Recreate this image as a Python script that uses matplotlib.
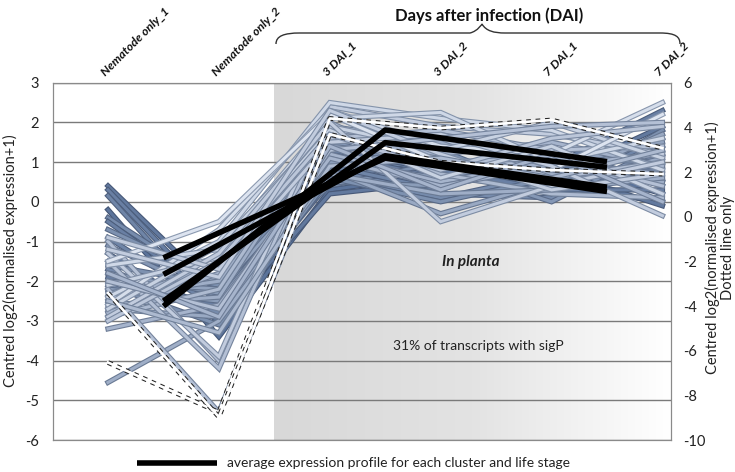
import numpy as np
import matplotlib
matplotlib.use("Agg")
import matplotlib.pyplot as plt
from matplotlib.colors import LinearSegmentedColormap, to_rgb
from matplotlib.path import Path
from matplotlib.patches import PathPatch
from matplotlib.transforms import offset_copy

plt.rcParams['font.family'] = ['Lato', 'DejaVu Sans']

# ---------------- data ----------------
categories = ["Nematode only_1", "Nematode only_2", "3 DAI_1", "3 DAI_2", "7 DAI_1", "7 DAI_2"]

nem_1 = [0.40, 0.30, 0.15, -0.20, -0.40, -0.50, -0.70, -0.90, -1.10, -1.30, -1.60, -1.70, -1.80, -1.90,
         -2.00, -2.10, -2.20, -2.30, -2.40, -2.50, -2.60, -2.70, -2.80, -2.90, -3.20, -4.55, -1.00, -1.50,
         -2.20, -1.30, -2.40, -2.60, -1.60, -2.70, -1.50, -2.10, -2.90, -0.90, -3.00, -1.20, -2.00, -2.50, -1.80]
nem_2 = [-2.30, -2.60, -2.90, -3.40, -2.20, -2.50, -2.00, -2.70, -2.40, -3.00, -2.10, -2.80, -2.30, -2.60,
         -2.20, -3.10, -2.50, -1.90, -2.00, -1.60, -2.40, -2.90, -1.80, -2.20, -2.60, -3.00, -4.00, -4.20,
         -5.30, -3.90, -1.00, -0.70, -1.20, -1.10, -0.50, -1.40, -1.30, -1.70, -1.50, -1.90, -2.70, -3.30, -2.90]
dai3_1 = [1.00, 0.60, 0.50, 0.30, 0.80, 1.20, 0.40, 0.90, 1.50, 0.20, 1.10, 0.70, 0.50, 1.30,
          0.90, 0.60, 1.00, 1.40, 1.70, 1.20, 1.90, 0.80, 1.60, 2.00, 1.10, 0.70, 1.80, 2.20,
          1.60, 2.40, 2.50, 2.30, 2.10, 1.90, 2.20, 1.80, 2.00, 1.50, 1.70, 2.30, 1.30, 0.90, 1.40]
dai3_2 = [0.80, 0.40, 1.20, 0.70, 0.20, 0.60, 1.00, 0.30, 0.90, 0.50, 1.30, 0.10, 0.40, 0.80,
          1.40, 0.00, 0.60, 1.10, 0.90, 0.50, 1.50, -0.30, 1.20, 0.70, 0.40, 0.20, 1.60, 1.00,
          1.80, 1.90, 2.10, 1.40, 2.25, 1.30, 1.00, 0.60, -0.50, 1.70, 0.80, 1.20, 1.60, 1.10, 0.30]
dai7_1 = [0.60, 0.90, 0.30, 1.00, 0.10, 0.40, 0.50, 1.30, 0.00, 0.80, 0.20, 0.70, 1.10, 0.30,
          0.90, 0.60, 1.20, 0.40, 0.70, 1.00, 0.80, 0.50, 1.50, 0.20, 0.90, 0.30, 0.60, 1.10,
          1.30, 1.70, 1.80, 1.20, 1.00, 2.00, 0.80, 1.40, 0.40, 0.90, 1.60, 0.30, 1.90, 0.60, 1.20]
dai7_2 = [1.90, 2.30, 1.60, 0.20, 1.20, 0.00, 0.90, 0.50, 1.40, -0.10, 1.80, 0.60, 1.00, 0.30,
          1.50, 0.80, 0.40, 1.10, 1.30, 0.70, 0.50, 1.70, 0.90, 0.10, 1.20, 0.60, 1.00, 0.40,
          1.40, 1.20, 0.80, 2.50, 1.60, 1.10, 2.20, 0.20, 1.00, -0.35, 1.90, 0.70, 2.00, 1.30, 0.00]
# shade of each transcript line (0 = light blue, 1 = dark slate blue)
shade = [0.90, 0.85, 0.80, 0.95, 0.75, 0.85, 0.70, 0.80, 0.65, 0.90, 0.70, 0.75, 0.60, 0.85,
         0.55, 0.70, 0.60, 0.50, 0.45, 0.40, 0.45, 0.50, 0.40, 0.35, 0.40, 0.45, 0.30, 0.30,
         0.30, 0.20, 0.10, 0.05, 0.10, 0.15, 0.00, 0.15, 0.20, 0.20, 0.25, 0.20, 0.30, 0.35, 0.40]

# dotted-line profiles (right axis)
dotted_1 = [-6.53, -8.76, 4.40, 3.97, 4.33, 3.07]
dotted_2 = [-3.42, -8.97, 3.69, 2.44, 2.09, 1.91]

# averages per cluster and life stage
stages = [[0, 1], [2, 3], [4, 5]]
avg_nematode = [-1.41, -1.83, -2.50, -2.63]
avg_3dai = [1.10, 1.16, 1.49, 1.81]
avg_7dai = [0.26, 0.37, 0.87, 1.01]

left_ticks = list(range(-6, 4))
right_ticks = list(range(-10, 7, 2))

# ---------------- figure ----------------
W, H = 735, 472
fig = plt.figure(figsize=(W / 100, H / 100), dpi=100)
ax = fig.add_axes([53 / W, 1 - 440 / H, (671 - 53) / W, (440 - 82.7) / H])
ax2 = ax.twinx()

x0, x1 = -0.496, 5.077
ax.set_xlim(x0, x1)
ax.set_ylim(-6, 3)
ax2.set_ylim(-10, 6)

# gradient background (in planta)
grad = np.linspace(0, 1, 256).reshape(1, -1)
cmap_bg = LinearSegmentedColormap.from_list("bg", ["#d8d8d8", "#e3e3e3", "#ffffff"])
ax.imshow(grad, extent=[1.5, x1, -6, 3], aspect='auto', cmap=cmap_bg, zorder=0, interpolation='bicubic')
ax.set_xlim(x0, x1)
ax.set_ylim(-6, 3)

for y in left_ticks:
    ax.axhline(y, color="#7a7a7a", lw=1.0, zorder=1)

light_fill = np.array(to_rgb("#dde4f0"))
dark_fill = np.array(to_rgb("#546d95"))
light_edge = np.array(to_rgb("#8c9ab0"))
dark_edge = np.array(to_rgb("#405272"))

xs = np.arange(len(categories))
rows = np.array([nem_1, nem_2, dai3_1, dai3_2, dai7_1, dai7_2]).T
for prof, s in zip(rows, shade):
    fc = light_fill + (dark_fill - light_fill) * s
    ec = light_edge + (dark_edge - light_edge) * s
    ax.plot(xs, prof, color=ec, lw=3.8, solid_joinstyle='miter', zorder=2)
    ax.plot(xs, prof, color=fc, lw=2.2, solid_joinstyle='miter', zorder=2)

for prof in (dotted_1, dotted_2):
    ax.plot(xs, prof, color="#222222", lw=3.4, ls=(0, (1, 1)), transform=ax2.transData, zorder=3)
    ax.plot(xs, prof, color="white", lw=1.9, transform=ax2.transData, zorder=3)

stage_x = [np.mean(s) for s in stages]
for a, b, c in zip(avg_nematode, avg_3dai, avg_7dai):
    ax.plot(stage_x, [a, b, c], color="black", lw=4.0, zorder=4, solid_capstyle='butt')

# axes styling
for sp in list(ax.spines.values()) + list(ax2.spines.values()):
    sp.set_color("#8a8a8a")
ax.set_xticks([])
ax.set_yticks(left_ticks)
ax.set_yticklabels([str(t) for t in left_ticks], fontsize=10.5, color="#222222")
ax.tick_params(axis='y', length=0, pad=10)
ax2.set_yticks(right_ticks)
ax2.set_yticklabels([str(t) for t in right_ticks], fontsize=10.5, color="#222222")
ax2.tick_params(axis='y', length=0, pad=9)

# category labels
lab_tr = offset_copy(ax.transData, fig=fig, x=0, y=5, units='dots')
for i, lab in enumerate(categories):
    ax.text(i - 0.01, 3, lab, transform=lab_tr, rotation=45, rotation_mode='anchor',
            ha='left', va='bottom', fontsize=8.8, fontweight='bold', fontstyle='italic',
            color="#111111", clip_on=False)

# axis labels
fig.text(10 / W, 1 - 261 / H, "Centred log2(normalised expression+1)", rotation=90,
         ha='center', va='center', fontsize=10.5, color="#222222")
fig.text(720 / W, 1 - 248 / H, "Centred log2(normalised expression+1)\nDotted line only", rotation=90,
         ha='center', va='center', fontsize=10.5, color="#222222", multialignment='center', linespacing=1.15)

# annotations
fig.text(471 / W, 1 - 262 / H, "In planta", ha='center', va='center', fontsize=11,
         fontweight='bold', fontstyle='italic', color="#222222")
fig.text(478 / W, 1 - 346 / H, "31% of transcripts with sigP", ha='center', va='center',
         fontsize=10, color="#222222")
fig.text(489 / W, 1 - 16 / H, "Days after infection (DAI)", ha='center', va='center',
         fontsize=12, fontweight='bold', color="#111111")

# brace
def P(x, y):
    return (x / W, 1 - y / H)
verts = [P(276, 44), P(276, 36), P(284, 33), P(300, 33),
         P(470, 33), P(478, 31), P(482, 24), P(482, 24),
         P(486, 31), P(494, 33), P(505, 33),
         P(660, 33), P(676, 33), P(680, 37), P(680, 44)]
codes = [Path.MOVETO, Path.CURVE4, Path.CURVE4, Path.CURVE4,
         Path.LINETO, Path.CURVE4, Path.CURVE4, Path.CURVE4,
         Path.CURVE4, Path.CURVE4, Path.CURVE4,
         Path.LINETO, Path.CURVE4, Path.CURVE4, Path.CURVE4]
fig.patches.append(PathPatch(Path(verts, codes), transform=fig.transFigure, fill=False,
                             edgecolor="#333333", lw=1.0))

# legend
fig.lines.append(plt.Line2D([137 / W, 217 / W], [1 - 463 / H, 1 - 463 / H], transform=fig.transFigure,
                            color="black", lw=4.0, solid_capstyle='butt'))
fig.text(227 / W, 1 - 463 / H, "average expression profile for each cluster and life stage",
         ha='left', va='center', fontsize=10, color="#222222")

fig.savefig("out.png", dpi=100)
